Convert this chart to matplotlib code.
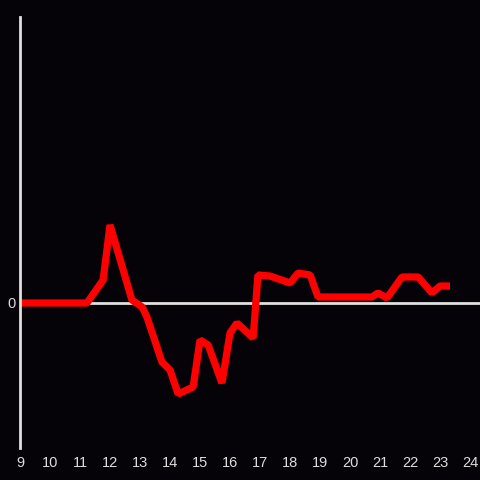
import matplotlib
matplotlib.use("Agg")
import matplotlib.pyplot as plt

# hours of day and values (arbitrary units, 0 = baseline)
hours = [9.0, 11.23, 11.77, 12.0, 12.73, 13.07, 13.23, 13.73, 14.0, 14.27,
         14.77, 15.0, 15.27, 15.73, 16.0, 16.23, 16.77, 16.93, 17.33, 18.0,
         18.27, 18.67, 18.93, 20.73, 20.93, 21.23, 21.73, 22.27, 22.73, 23.0,
         23.33]
values = [0.0, 0.0, 2.3, 7.8, 0.3, -0.4, -1.4, -5.9, -6.7, -9.1,
          -8.4, -3.7, -4.2, -8.0, -3.0, -2.0, -3.5, 2.8, 2.7, 2.0,
          3.0, 2.8, 0.6, 0.6, 1.0, 0.5, 2.6, 2.6, 1.0, 1.7,
          1.7]
xticks = list(range(9, 25))

bg = "#050307"
fig = plt.figure(figsize=(4.8, 4.8), dpi=100, facecolor=bg)
ax = fig.add_axes([20 / 480, 32 / 480, 460 / 480, 431 / 480])
ax.set_facecolor(bg)

ax.axhline(0, color="#e0e0e0", lw=2, zorder=1)
ax.plot(hours, values, color="#ff0000", lw=5.2, solid_joinstyle="bevel",
        solid_capstyle="butt", zorder=2)

ax.set_xlim(9, 24.33)
ax.set_ylim(-14.5, 28.6)
ax.set_xticks(xticks)
ax.set_yticks([0])
ax.tick_params(length=0, colors="#dddddd", labelsize=10.5, pad=6)
ax.tick_params(axis="y", pad=3)
for lab in ax.get_xticklabels() + ax.get_yticklabels():
    lab.set_family("Liberation Sans")

for side in ["top", "right", "bottom"]:
    ax.spines[side].set_visible(False)
ax.spines["left"].set_color("#e0e0e0")
ax.spines["left"].set_linewidth(2)

fig.savefig("out.png", dpi=100, facecolor=bg)
